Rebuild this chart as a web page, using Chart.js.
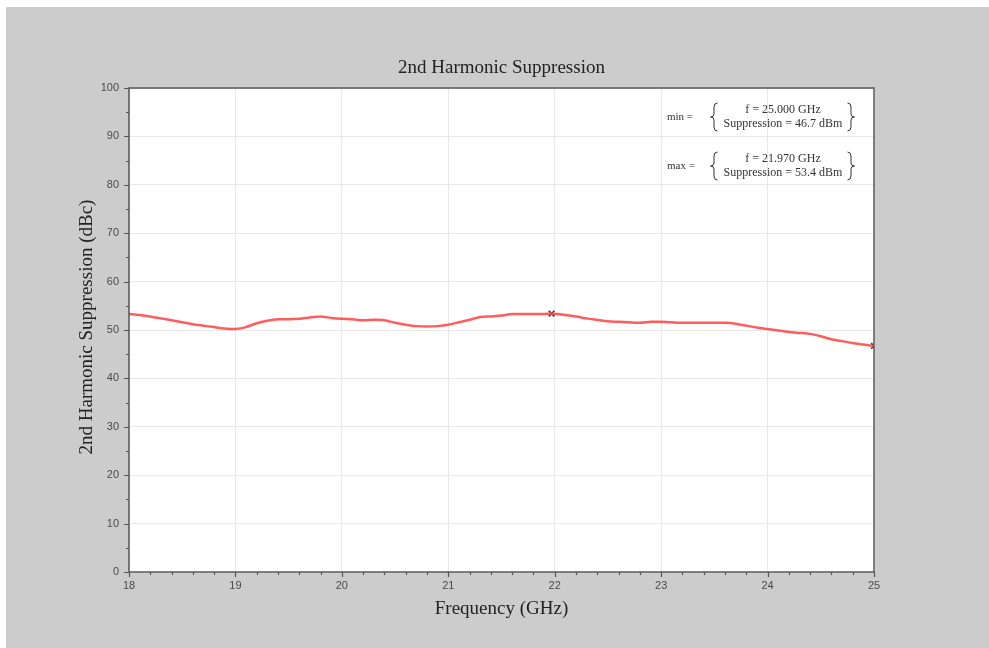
<!DOCTYPE html>
<html>
<head>
<meta charset="utf-8">
<script src="https://cdn.jsdelivr.net/npm/chart.js@4.4.1/dist/chart.umd.min.js"></script>
<style>
  html, body { margin: 0; padding: 0; background: #ffffff; }
  #wrap { width: 989px; height: 648px; }
</style>
</head>
<body>
<div id="wrap"><canvas id="harmChart" width="989" height="648"></canvas></div>
<script>
// Frecuencia (GHz) y supresión del 2º armónico (dBc)
const freqGHz = [18.0, 18.1, 18.2, 18.3, 18.4, 18.5, 18.6, 18.7, 18.8, 18.9,
                 19.0, 19.1, 19.2, 19.3, 19.4, 19.5, 19.6, 19.7, 19.8, 19.9,
                 20.0, 20.1, 20.2, 20.3, 20.4, 20.5, 20.6, 20.7, 20.8, 20.9,
                 21.0, 21.1, 21.2, 21.3, 21.4, 21.5, 21.6, 21.7, 21.8, 21.9,
                 21.97, 22.1, 22.2, 22.3, 22.4, 22.5, 22.6, 22.7, 22.8, 22.9,
                 23.0, 23.1, 23.2, 23.3, 23.4, 23.5, 23.6, 23.7, 23.8, 23.9,
                 24.0, 24.1, 24.2, 24.3, 24.4, 24.5, 24.6, 24.7, 24.8, 24.9, 25.0];
const suppression = [53.3, 53.1, 52.8, 52.4, 52.0, 51.6, 51.2, 50.9, 50.6, 50.3,
                     50.2, 50.6, 51.4, 51.9, 52.2, 52.2, 52.3, 52.6, 52.8, 52.5,
                     52.3, 52.2, 52.0, 52.1, 52.0, 51.5, 51.1, 50.8, 50.7, 50.8,
                     51.1, 51.6, 52.1, 52.7, 52.8, 53.0, 53.3, 53.3, 53.3, 53.3,
                     53.4, 53.1, 52.8, 52.4, 52.1, 51.8, 51.7, 51.6, 51.5, 51.7,
                     51.7, 51.6, 51.5, 51.5, 51.5, 51.5, 51.5, 51.3, 50.9, 50.5,
                     50.2, 49.9, 49.6, 49.4, 49.2, 48.7, 48.1, 47.7, 47.3, 47.0, 46.7];

// Marcadores de mínimo y máximo
const markerFreq = [25.0, 21.97];
const markerVal = [46.7, 53.4];

const xTicks = [18, 19, 20, 21, 22, 23, 24, 25];
const yTicks = [0, 10, 20, 30, 40, 50, 60, 70, 80, 90, 100];

const chartTitle = '2nd Harmonic Suppression';
const xTitle = 'Frequency (GHz)';
const yTitle = '2nd Harmonic Suppression (dBc)';
const minLines = ['f = 25.000 GHz', 'Suppression = 46.7 dBm'];
const maxLines = ['f = 21.970 GHz', 'Suppression = 53.4 dBm'];

const serif = '"Liberation Serif", "DejaVu Serif", serif';

function drawBrace(ctx, x, top, bot, dir) {
    // dir = 1 llave izquierda, -1 llave derecha
    const mid = (top + bot) / 2;
    const w = 3.5 * dir;
    ctx.beginPath();
    ctx.moveTo(x + w, top);
    ctx.quadraticCurveTo(x, top, x, top + 4);
    ctx.lineTo(x, mid - 3);
    ctx.quadraticCurveTo(x, mid, x - w, mid);
    ctx.quadraticCurveTo(x, mid, x, mid + 3);
    ctx.lineTo(x, bot - 4);
    ctx.quadraticCurveTo(x, bot, x + w, bot);
    ctx.stroke();
}

const framePlugin = {
    id: 'framePlugin',
    beforeDraw(chart) {
        const ctx = chart.ctx;
        ctx.save();
        ctx.fillStyle = '#ffffff';
        ctx.fillRect(0, 0, chart.width, chart.height);
        ctx.fillStyle = '#cccccc';
        ctx.fillRect(6, 7, chart.width - 6, chart.height - 7);
        const a = chart.chartArea;
        ctx.fillStyle = '#ffffff';
        ctx.fillRect(a.left, a.top, a.right - a.left, a.bottom - a.top);
        ctx.restore();
    },
    afterDatasetsDraw(chart) {
        const ctx = chart.ctx;
        const a = chart.chartArea;
        const xs = chart.scales.x;
        const ys = chart.scales.y;
        ctx.save();
        // marco
        ctx.strokeStyle = '#555555';
        ctx.lineWidth = 1.5;
        ctx.strokeRect(a.left, a.top, a.right - a.left, a.bottom - a.top);
        // marcas de los ejes
        ctx.lineWidth = 1.2;
        ctx.beginPath();
        for (let i = 0; i <= 35; i++) {
            const v = 18 + i * 0.2;
            const px = Math.round(xs.getPixelForValue(v)) + 0.5;
            const len = (i % 5 === 0) ? 5 : 3;
            ctx.moveTo(px, a.bottom);
            ctx.lineTo(px, a.bottom + len);
        }
        for (let i = 0; i <= 20; i++) {
            const v = i * 5;
            const py = Math.round(ys.getPixelForValue(v)) + 0.5;
            const len = (i % 2 === 0) ? 5 : 3;
            ctx.moveTo(a.left, py);
            ctx.lineTo(a.left - len, py);
        }
        ctx.stroke();

        // títulos
        ctx.fillStyle = '#222222';
        ctx.textAlign = 'center';
        ctx.textBaseline = 'middle';
        ctx.font = '19px ' + serif;
        ctx.fillText(chartTitle, (a.left + a.right) / 2, 68);
        ctx.fillText(xTitle, (a.left + a.right) / 2, 609);
        ctx.save();
        ctx.translate(87, 327);
        ctx.rotate(-Math.PI / 2);
        ctx.fillText(yTitle, 0, 0);
        ctx.restore();

        // anotaciones min / max
        ctx.fillStyle = '#333333';
        ctx.strokeStyle = '#333333';
        ctx.lineWidth = 1;
        const blocks = [[minLines, 117, 'min ='], [maxLines, 166, 'max =']];
        blocks.forEach(([lines, cy, lab]) => {
            ctx.font = '11px ' + serif;
            ctx.textAlign = 'left';
            ctx.fillText(lab, 667, cy);
            ctx.font = '12px ' + serif;
            ctx.textAlign = 'center';
            ctx.fillText(lines[0], 783, cy - 7);
            ctx.fillText(lines[1], 783, cy + 7);
            drawBrace(ctx, 714, cy - 14, cy + 14, 1);
            drawBrace(ctx, 851, cy - 14, cy + 14, -1);
        });
        ctx.restore();
    }
};

new Chart(document.getElementById('harmChart'), {
    type: 'line',
    data: {
        datasets: [
            {
                label: 'Suppression',
                data: freqGHz.map((f, i) => ({ x: f, y: suppression[i] })),
                borderColor: 'rgba(255, 75, 75, 0.9)',
                borderWidth: 2.5,
                pointRadius: 0,
                tension: 0.2,
                fill: false
            },
            {
                label: 'min/max',
                type: 'scatter',
                data: markerFreq.map((f, i) => ({ x: f, y: markerVal[i] })),
                pointStyle: 'crossRot',
                pointRadius: 4,
                borderColor: '#333333',
                borderWidth: 1.5,
                showLine: false
            }
        ]
    },
    options: {
        responsive: false,
        animation: false,
        layout: { padding: { left: 69, right: 115, top: 88, bottom: 26 } },
        plugins: {
            legend: { display: false },
            tooltip: { enabled: false },
            title: { display: false }
        },
        scales: {
            x: {
                type: 'linear',
                min: 18,
                max: 25,
                afterBuildTicks: (scale) => { scale.ticks = xTicks.map(v => ({ value: v })); },
                afterFit: (scale) => { scale.height = 50; },
                ticks: {
                    color: '#4a4a4a',
                    font: { family: '"Liberation Sans", Arial, sans-serif', size: 11 },
                    padding: 7,
                    maxRotation: 0
                },
                grid: { color: '#e8e8e8', lineWidth: 1, drawTicks: false },
                border: { display: false }
            },
            y: {
                min: 0,
                max: 100,
                afterBuildTicks: (scale) => { scale.ticks = yTicks.map(v => ({ value: v })); },
                afterFit: (scale) => { scale.width = 60; },
                ticks: {
                    color: '#4a4a4a',
                    font: { family: '"Liberation Sans", Arial, sans-serif', size: 11 },
                    padding: 10
                },
                grid: { color: '#e8e8e8', lineWidth: 1, drawTicks: false },
                border: { display: false }
            }
        }
    },
    plugins: [framePlugin]
});
</script>
</body>
</html>
